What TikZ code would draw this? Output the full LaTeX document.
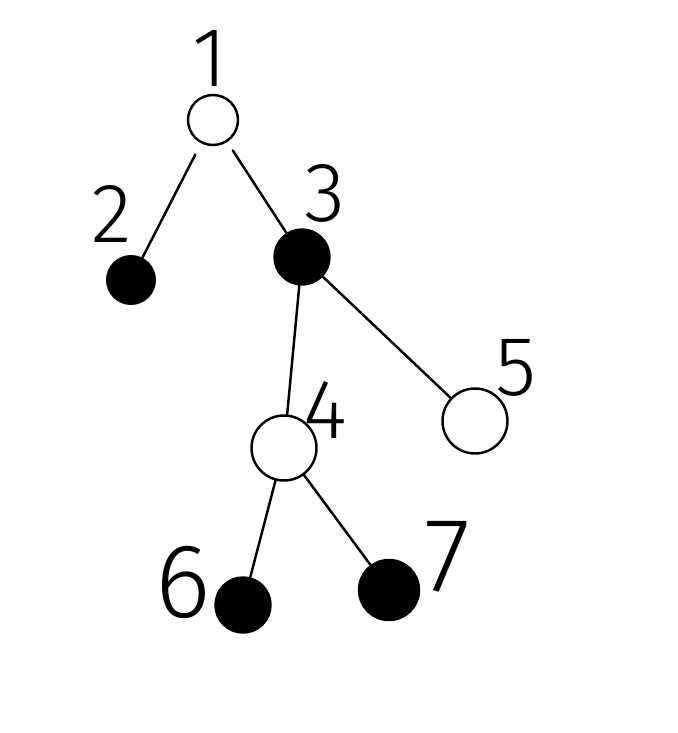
\documentclass[tikz,border=0pt]{standalone}
\usepackage{fontspec}
\setmainfont{Fira Sans}[UprightFont={* Light}]
\usepackage{tikz}
\usetikzlibrary{positioning}

\tikzset{
  blank/.style={circle, draw, line width=1.4pt, inner sep=0pt},
  inked/.style={circle, draw, fill=black, line width=1.4pt, inner sep=0pt},
  lbl/.style={inner sep=0pt, font=\fontsize{48}{48}\selectfont},
  biglbl/.style={inner sep=0pt, font=\fontsize{60}{60}\selectfont},
  twig/.style={line width=1.4pt, line cap=round}
}

\begin{document}
\begin{tikzpicture}[x=0.02cm, y=-0.02cm]

\useasboundingbox (0,0) rectangle (677,733);

% nodes of the tree
\node[blank, minimum size=1.0cm]  (n1) at (213,120) {};
\node[inked, minimum size=0.95cm] (n2) at (131,280) {};
\node[inked, minimum size=1.1cm]  (n3) at (302,257) {};
\node[blank, minimum size=1.3cm]  (n4) at (284,448) {};
\node[blank, minimum size=1.3cm]  (n5) at (475,421) {};
\node[inked, minimum size=1.1cm]  (n6) at (243,605) {};
\node[inked, minimum size=1.2cm]  (n7) at (389,590) {};

% labels
\node[lbl] (l1) at (210,58)  {1};
\node[lbl] (l2) at (112,214) {2};
\node[lbl] (l3) at (325,193) {3};
\node[lbl] (l4) at (325,410) {4};
\node[lbl] (l5) at (516,368) {5};
\node[biglbl] (l6) at (183,582) {6};
\node[biglbl] (l7) at (448,557) {7};

% edges
\draw[twig, shorten <=0.25cm] (n1) -- (n2);
\draw[twig, shorten <=0.2cm] (n1) -- (n3);
\draw[twig] (n3) -- (n4);
\draw[twig] (n3) -- (n5);
\draw[twig] (n4) -- (n6);
\draw[twig] (n4) -- (n7);

\end{tikzpicture}
\end{document}
